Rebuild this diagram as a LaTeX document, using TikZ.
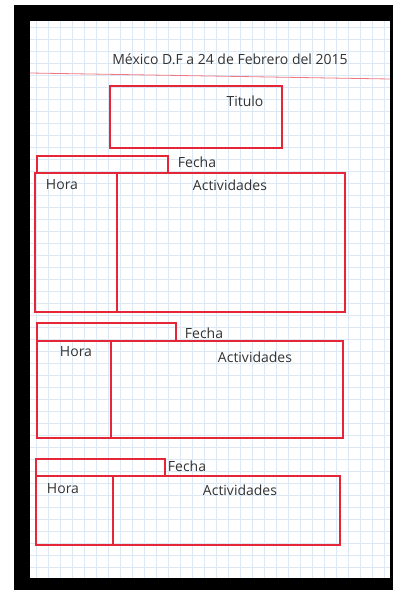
\documentclass[tikz,border=0pt]{standalone}
\usepackage{fontspec}
\setmainfont{Open Sans}
\usetikzlibrary{positioning}
\definecolor{sketchred}{RGB}{228,38,56}
\definecolor{gridblue}{RGB}{220,232,243}
\definecolor{marginred}{RGB}{240,120,130}
\tikzset{
   sketch box/.style={ rectangle, draw=sketchred, line width=2.7pt, inner sep=0pt},
   hand/.style={ text=black!80, font=\fontsize{14}{16}\selectfont, inner sep=1pt},
   grid line/.style={ draw=gridblue, line width=0.5pt},
   margin line/.style={ draw=marginred, line width=0.8pt}
}
\begin{document}
\begin{tikzpicture}[x=1pt,y=-1pt]
  \useasboundingbox (0,0) rectangle (393,590);

  %% Photo frame and sheet
  \fill[black] (14,5) rectangle (393,590);
  \fill[white] (30,21) rectangle (390,578);
  \foreach \gx in {36,48,...,384} \draw[grid line] (\gx,21) -- (\gx,578);
  \foreach \gy in {27,39,...,573} \draw[grid line] (30,\gy) -- (390,\gy);
  \draw[margin line] (30,73) -- (390,79);

  \node[hand] at (230,59) (header) {México D.F a 24 de Febrero del 2015};

  %% Title
  \node[sketch box, minimum width=172pt, minimum height=62pt] at (196,117) (titulo box) {};
  \node[hand] at (245,101) (titulo) {Titulo};

  %% Block 1
  \node[sketch box, minimum width=131pt, minimum height=17pt] at (102.5,164.5) (fecha box one) {};
  \node[sketch box, minimum width=82pt,  minimum height=139pt] at (76,242.5)   (hora cell one) {};
  \node[sketch box, minimum width=228pt, minimum height=139pt] at (231,242.5)  (act cell one) {};
  \node[hand] at (197,162) (fecha one) {Fecha};
  \node[hand] at (62,185)  (hora one)  {Hora};
  \node[hand] at (230,185) (act one)   {Actividades};

  %% Block 2
  \node[sketch box, minimum width=139pt, minimum height=18pt] at (106.5,332)  (fecha box two) {};
  \node[sketch box, minimum width=74pt,  minimum height=97pt] at (74,389.5)   (hora cell two) {};
  \node[sketch box, minimum width=232pt, minimum height=97pt] at (227,389.5)  (act cell two) {};
  \node[hand] at (204,333) (fecha two) {Fecha};
  \node[hand] at (76,352)  (hora two)  {Hora};
  \node[hand] at (255,357) (act two)   {Actividades};

  %% Block 3
  \node[sketch box, minimum width=129pt, minimum height=17pt] at (100.5,467.5) (fecha box three) {};
  \node[sketch box, minimum width=77pt,  minimum height=69pt] at (74.5,510.5)  (hora cell three) {};
  \node[sketch box, minimum width=227pt, minimum height=69pt] at (226.5,510.5) (act cell three) {};
  \node[hand] at (187,466) (fecha three) {Fecha};
  \node[hand] at (63,489)  (hora three)  {Hora};
  \node[hand] at (240,490) (act three)   {Actividades};

\end{tikzpicture}
\end{document}
